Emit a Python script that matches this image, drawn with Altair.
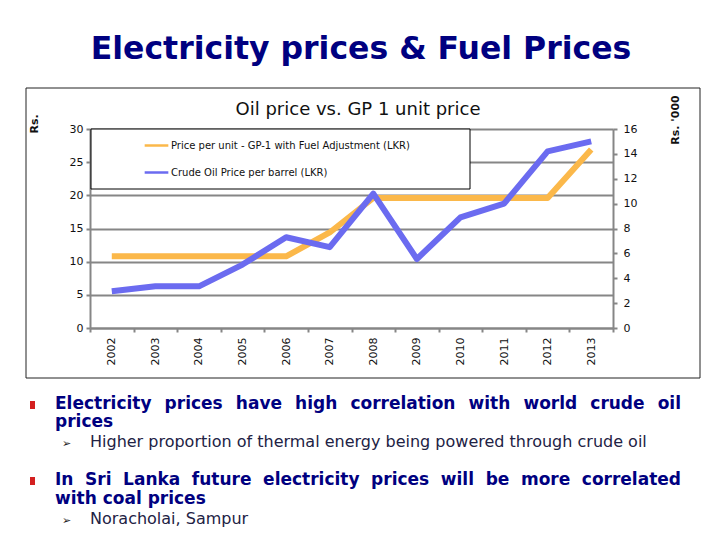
import altair as alt
import pandas as pd

years = ["2002", "2003", "2004", "2005", "2006", "2007", "2008", "2009", "2010", "2011", "2012", "2013"]
gp1_price = [10.8, 10.8, 10.8, 10.8, 10.8, 14.4, 19.6, 19.6, 19.6, 19.6, 19.6, 26.9]
crude_price = [2.95, 3.35, 3.35, 5.1, 7.3, 6.5, 10.8, 5.55, 8.9, 10.0, 14.2, 15.0]

series_names = ["Price per unit - GP-1 with Fuel Adjustment (LKR)", "Crude Oil Price per barrel (LKR)"]
series_colors = ["#FBB84A", "#6B6BF0"]

slide_title = "Electricity prices & Fuel Prices"
chart_title = "Oil price vs. GP 1 unit price"
left_axis_title = "Rs."
right_axis_title = "Rs. '000"
bullets = [
    "Electricity prices have high correlation with world crude oil",
    "prices",
    "In Sri Lanka future electricity prices will be more correlated",
    "with coal prices",
]
sub_bullets = [
    "Higher proportion of thermal energy being powered through crude  oil",
    "Noracholai, Sampur",
]

FONT = "DejaVu Sans"
NAVY = "#000080"
GRID = "#868686"

gp_df = pd.DataFrame({"year": years, "value": gp1_price, "series": series_names[0]})
crude_df = pd.DataFrame({"year": years, "value": crude_price, "series": series_names[1]})
dummy = pd.DataFrame({"d": [0]})

x_enc = alt.X(
    "year:O",
    bandPosition=0.5,
    scale=alt.Scale(type="band", paddingInner=0, paddingOuter=0),
    axis=alt.Axis(
        title=None, labelAngle=270, labelAlign="right", labelBaseline="middle",
        labelFont=FONT, labelFontSize=11, labelColor="#111", labelPadding=5,
        tickBand="extent", tickColor=GRID, tickWidth=2, tickSize=4,
        domainColor=GRID, domainWidth=2, grid=False,
    ),
)

color_enc = alt.Color(
    "series:N",
    scale=alt.Scale(domain=series_names, range=series_colors),
    legend=alt.Legend(
        title=None, orient="none", legendX=53, legendY=3, direction="vertical",
        symbolType="stroke", symbolSize=560, symbolStrokeWidth=2.5,
        labelFont=FONT, labelFontSize=10, labelColor="#111", labelOffset=1,
        rowPadding=8, padding=0, labelLimit=400,
    ),
)

gp_line = alt.Chart(gp_df).mark_line(strokeWidth=6, strokeJoin="round").encode(
    x=x_enc,
    y=alt.Y(
        "value:Q",
        scale=alt.Scale(domain=[0, 30], nice=False),
        axis=alt.Axis(
            title=None, orient="left", values=[0, 5, 10, 15, 20, 25, 30],
            labelFont=FONT, labelFontSize=11, labelColor="#111", labelPadding=3,
            tickColor=GRID, tickWidth=2, tickSize=4,
            domainColor=GRID, domainWidth=2,
            grid=True, gridColor=GRID, gridWidth=2,
        ),
    ),
    color=color_enc,
)

crude_line = alt.Chart(crude_df).mark_line(strokeWidth=6, strokeJoin="round").encode(
    x=x_enc,
    y=alt.Y(
        "value:Q",
        scale=alt.Scale(domain=[0, 16], nice=False),
        axis=alt.Axis(
            title=None, orient="right", values=[0, 2, 4, 6, 8, 10, 12, 14, 16],
            labelFont=FONT, labelFontSize=11, labelColor="#111", labelPadding=6,
            tickColor=GRID, tickWidth=2, tickSize=4,
            domainColor=GRID, domainWidth=2, grid=False,
        ),
    ),
    color=color_enc,
)

frame = alt.Chart(dummy).mark_rect(fill=None, stroke="#222", strokeWidth=1).encode(
    x=alt.value(-64), x2=alt.value(610), y=alt.value(-41), y2=alt.value(249)
)
legend_box = alt.Chart(dummy).mark_rect(fill="white", stroke="#000", strokeWidth=1).encode(
    x=alt.value(1), x2=alt.value(380), y=alt.value(0), y2=alt.value(60)
)


def txt(s, x, y, size, color="#000", weight="normal", angle=0, align="left", baseline="alphabetic"):
    return alt.Chart(dummy).mark_text(
        font=FONT, fontSize=size, fontWeight=weight, color=color, angle=angle,
        align=align, baseline=baseline,
    ).encode(text=alt.value(s), x=alt.value(x), y=alt.value(y))


def bullet_square(x, y):
    return alt.Chart(dummy).mark_rect(fill="#D42020").encode(
        x=alt.value(x), x2=alt.value(x + 5), y=alt.value(y), y2=alt.value(y + 8)
    )


# approximate advance widths (em) of DejaVu Sans Bold, used to justify a line
BOLD_W = {
    " ": 0.348, "a": 0.675, "b": 0.716, "c": 0.593, "d": 0.716, "e": 0.678, "f": 0.435,
    "g": 0.716, "h": 0.712, "i": 0.343, "k": 0.665, "l": 0.343, "m": 1.042, "n": 0.712,
    "o": 0.687, "p": 0.716, "r": 0.493, "s": 0.595, "t": 0.478, "u": 0.712, "v": 0.652,
    "w": 0.924, "y": 0.652, "E": 0.683, "I": 0.372, "L": 0.637, "S": 0.720,
}


def justified(line, left, right, y, size, color, weight="bold"):
    words = line.split()
    widths = [sum(BOLD_W.get(ch, 0.65) for ch in w) * size for w in words]
    gap = (right - left - sum(widths)) / (len(words) - 1)
    layers = []
    pos = left
    for i, (w, wd) in enumerate(zip(words, widths)):
        if i == len(words) - 1:
            layers.append(txt(w, right, y, size, color, weight, align="right"))
        else:
            layers.append(txt(w, pos, y, size, color, weight))
        pos += wd + gap
    return layers


BSIZE = 17
texts = [
    txt(slide_title, 271, -70, 31.5, NAVY, "bold", align="center"),
    txt(chart_title, 268, -14, 18, "#111", align="center"),
    txt(left_axis_title, -55, -5, 11, "#111", "bold", angle=270, align="center", baseline="middle"),
    txt(right_axis_title, 586, -9, 11, "#111", "bold", angle=270, align="center", baseline="middle"),
    bullet_square(-60, 272),
    *justified(bullets[0], -35, 591, 280, BSIZE, NAVY),
    txt(bullets[1], -35, 298, BSIZE, NAVY, "bold"),
    txt("➢", -28, 318, 11, "#222"),
    txt(sub_bullets[0], 0, 318, 16, "#222244"),
    bullet_square(-60, 348),
    *justified(bullets[2], -35, 591, 356, BSIZE, NAVY),
    txt(bullets[3], -35, 375, BSIZE, NAVY, "bold"),
    txt("➢", -28, 395, 11, "#222"),
    txt(sub_bullets[1], 0, 395, 16, "#222244"),
]

chart = alt.layer(frame, legend_box, gp_line, crude_line, *texts).resolve_scale(
    y="independent"
).properties(
    width=523,
    height=199,
    autosize=alt.AutoSizeParams(type="none"),
    padding={"left": 82, "top": 121, "right": 99, "bottom": 204},
).configure_view(stroke=None).configure(background="white")

chart.save("out.html", embed_options={"renderer": "svg", "actions": False})
